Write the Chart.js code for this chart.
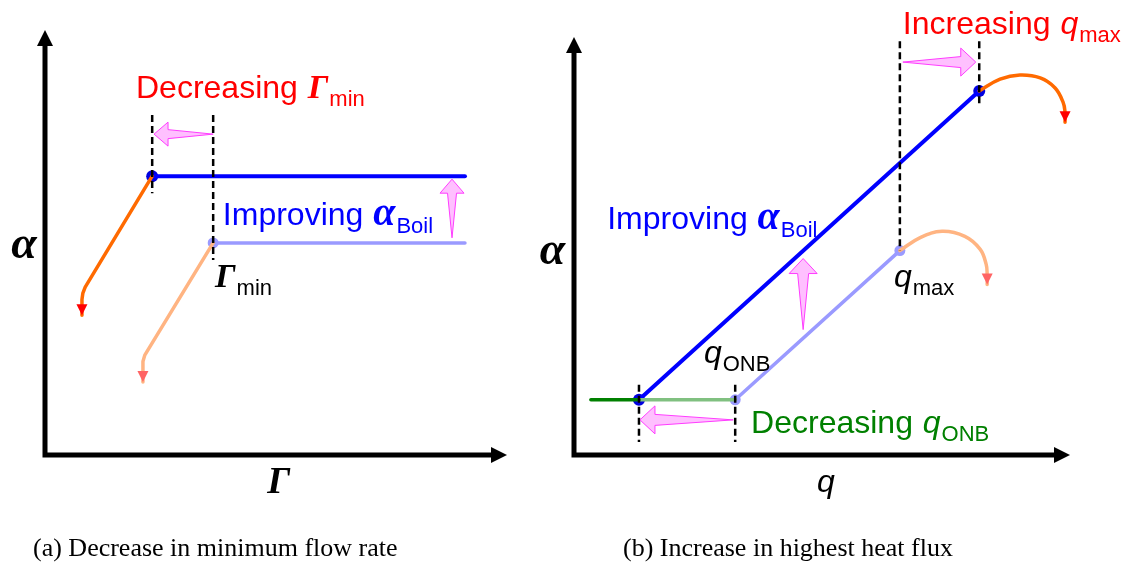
<!DOCTYPE html>
<html>
<head>
<meta charset="utf-8">
<script src="https://cdn.jsdelivr.net/npm/chart.js@4.4.0/dist/chart.umd.min.js"></script>
<style>
  body { margin: 0; background: #fff; width: 1124px; height: 564px; overflow: hidden; position: relative; }
  .panel { position: absolute; top: 0; }
</style>
</head>
<body>
<canvas id="panelA" class="panel" width="520" height="564" style="left:0"></canvas>
<canvas id="panelB" class="panel" width="604" height="564" style="left:520px"></canvas>
<script>
// ---- (a) alpha vs Gamma ----
const aImprovedX = [23.2, 90.9];
const aImprovedY = [65.6, 65.6];
const aBaseX = [36.4, 90.9];
const aBaseY = [49.9, 49.9];
const aDryoutX = [23.2, 8.7, 8.2, 8.0, 8.0];
const aDryoutY = [65.6, 39.5, 38.1, 36.6, 32.9];
const aBaseDryoutX = [36.4, 21.6, 21.2, 21.2, 21.2];
const aBaseDryoutY = [49.9, 23.5, 22.0, 20.6, 17.2];
const aGammaMin = [23.2, 36.4];          // improved, base
const aDashTop = [80, 80];
const aDashBottom = [61.6, 45.9];

// ---- (b) alpha vs q ----
const bSinglePhaseX = [3.4, 13.1];
const bSinglePhaseY = [13.2, 13.2];
const bBaseSinglePhaseX = [13.1, 32.5];
const bBaseSinglePhaseY = [13.2, 13.2];
const bImprovedX = [13.1, 81.7];
const bImprovedY = [13.2, 87.1];
const bBaseX = [32.5, 65.7];
const bBaseY = [13.2, 48.9];
const bCrisisX = [81.7, 85.9, 89.9, 94.0, 97.0, 98.6, 99.0, 99.0];
const bCrisisY = [87.1, 89.9, 90.9, 90.2, 87.8, 84.4, 82.0, 79.6];
const bBaseCrisisX = [65.7, 69.8, 74.2, 78.8, 81.9, 83.1, 83.3, 83.3];
const bBaseCrisisY = [48.9, 52.0, 53.5, 52.3, 49.2, 45.6, 43.2, 40.8];
const bDashX = [13.1, 32.5, 65.7, 81.7];
const bDashTop = [16.8, 16.8, 99, 99];
const bDashBottom = [3.1, 3.1, 48.9, 83.2];

const SANS = '"Liberation Sans", Arial, sans-serif';
const SERIF = '"Liberation Serif", "Times New Roman", serif';
const BLACK = '#000000', RED = '#ff0000', BLUE = '#0000ff', GREEN = '#008000';

const pts = (xs, ys) => xs.map((x, i) => ({ x, y: ys[i] }));

function lineSet(xs, ys, color, width, extra) {
    return Object.assign({
        data: pts(xs, ys),
        showLine: true,
        borderColor: color,
        borderWidth: width,
        pointRadius: 0,
        borderCapStyle: 'round',
        borderJoinStyle: 'round',
        tension: 0,
        clip: false
    }, extra || {});
}

function dotSet(xs, ys, color, r) {
    return {
        data: pts(xs, ys),
        showLine: false,
        pointRadius: r,
        pointBackgroundColor: color,
        pointBorderWidth: 0,
        clip: false
    };
}

// text pieces
const word = (text, color) => ({ text, color, font: `32px ${SANS}` });
const greek = (text, color, size) => ({ text, color, font: `italic bold ${size || 34}px ${SERIF}` });
const qSym = (color, size) => ({ text: 'q', color, font: `italic ${size || 32}px ${SANS}` });
const sub = (text, color) => ({ text, color, font: `22px ${SANS}`, dy: 8 });

function drawRich(ctx, x, y, parts) {
    let cx = x;
    ctx.textBaseline = 'alphabetic';
    ctx.textAlign = 'left';
    parts.forEach(p => {
        ctx.font = p.font;
        ctx.fillStyle = p.color;
        ctx.fillText(p.text, cx, y + (p.dy || 0));
        cx += ctx.measureText(p.text).width + 1;
    });
}

function drawBlockArrow(ctx, x0, y0, x1, y1, s) {
    const ang = Math.atan2(y1 - y0, x1 - x0);
    const len = Math.hypot(x1 - x0, y1 - y0);
    ctx.save();
    ctx.translate(x0, y0);
    ctx.rotate(ang);
    ctx.beginPath();
    ctx.moveTo(0, 0);
    ctx.lineTo(len - s.len, -s.shaft);
    ctx.lineTo(len - s.len, -s.head);
    ctx.lineTo(len, 0);
    ctx.lineTo(len - s.len, s.head);
    ctx.lineTo(len - s.len, s.shaft);
    ctx.closePath();
    ctx.fillStyle = '#ffc0ff';
    ctx.fill();
    ctx.strokeStyle = '#ff3cff';
    ctx.lineWidth = 1;
    ctx.stroke();
    ctx.restore();
}

function drawHead(ctx, from, tip, color, len, half) {
    const ang = Math.atan2(tip.y - from.y, tip.x - from.x);
    ctx.save();
    ctx.translate(tip.x, tip.y);
    ctx.rotate(ang);
    ctx.beginPath();
    ctx.moveTo(0, 0);
    ctx.lineTo(-len, -half);
    ctx.lineTo(-len, half);
    ctx.closePath();
    ctx.fillStyle = color;
    ctx.fill();
    ctx.restore();
}

// axes, dashed guides, block arrows, labels
function sketchPlugin(cfg) {
    return {
        id: 'sketch',
        beforeDatasetsDraw(chart) {
            const { ctx, chartArea: a } = chart;
            ctx.save();
            ctx.strokeStyle = BLACK;
            ctx.fillStyle = BLACK;
            ctx.lineWidth = 5;
            ctx.beginPath();
            ctx.moveTo(a.left, a.top + 14);
            ctx.lineTo(a.left, a.bottom);
            ctx.lineTo(a.right - 14, a.bottom);
            ctx.stroke();
            drawHead(ctx, { x: a.left, y: a.bottom }, { x: a.left, y: a.top }, BLACK, 16, 8);
            drawHead(ctx, { x: a.left, y: a.bottom }, { x: a.right, y: a.bottom }, BLACK, 16, 8);
            ctx.restore();
        },
        afterDatasetsDraw(chart) {
            const { ctx } = chart;
            const sx = chart.scales.x, sy = chart.scales.y;

            // arrow heads at the end of the dryout / crisis curves
            chart.data.datasets.forEach((ds, i) => {
                if (!ds.arrowColor) return;
                const els = chart.getDatasetMeta(i).data;
                const n = els.length;
                drawHead(ctx, els[n - 2], els[n - 1], ds.arrowColor, 11, 5.5);
            });

            ctx.save();
            ctx.strokeStyle = BLACK;
            ctx.lineWidth = 2.5;
            ctx.setLineDash([7, 4]);
            cfg.dashX.forEach((x, i) => {
                ctx.beginPath();
                ctx.moveTo(sx.getPixelForValue(x), sy.getPixelForValue(cfg.dashTop[i]));
                ctx.lineTo(sx.getPixelForValue(x), sy.getPixelForValue(cfg.dashBottom[i]));
                ctx.stroke();
            });
            ctx.restore();

            cfg.shifts.forEach(s => {
                drawBlockArrow(ctx,
                    sx.getPixelForValue(s.from[0]), sy.getPixelForValue(s.from[1]),
                    sx.getPixelForValue(s.to[0]), sy.getPixelForValue(s.to[1]), cfg.shiftSize);
            });

            cfg.labels.forEach(l => {
                drawRich(ctx, sx.getPixelForValue(l.x), sy.getPixelForValue(l.y), l.parts);
            });

            ctx.save();
            ctx.font = `26px ${SERIF}`;
            ctx.fillStyle = BLACK;
            ctx.textAlign = 'left';
            ctx.textBaseline = 'alphabetic';
            ctx.fillText(cfg.caption, chart.chartArea.left + cfg.captionShift, 556);
            ctx.restore();
        }
    };
}

function makeChart(id, datasets, padding, cfg) {
    return new Chart(document.getElementById(id), {
        type: 'scatter',
        data: { datasets },
        options: {
            responsive: false,
            animation: false,
            events: [],
            layout: { padding },
            plugins: { legend: { display: false }, tooltip: { enabled: false } },
            scales: {
                x: { type: 'linear', min: 0, max: 100, display: false },
                y: { type: 'linear', min: 0, max: 100, display: false }
            }
        },
        plugins: [sketchPlugin(cfg)]
    });
}

makeChart('panelA', [
    lineSet(aDryoutX, aDryoutY, '#ff6a00', 3.5, { arrowColor: RED }),
    lineSet(aBaseDryoutX, aBaseDryoutY, '#ffb482', 3.5, { arrowColor: '#ff6464' }),
    lineSet(aBaseX, aBaseY, '#9a9aff', 3.5),
    lineSet(aImprovedX, aImprovedY, BLUE, 4),
    dotSet([aGammaMin[1]], [aBaseY[0]], '#9a9aff', 5.5),
    dotSet([aGammaMin[0]], [aImprovedY[0]], '#0000e0', 6)
], { left: 45, right: 13, top: 30, bottom: 109 }, {
    dashX: aGammaMin,
    dashTop: aDashTop,
    dashBottom: aDashBottom,
    shiftSize: { head: 12, len: 14, shaft: 4.5 },
    shifts: [
        { from: [36.4, 75.5], to: [23.6, 75.5] },
        { from: [88.1, 51.1], to: [88.1, 64.9] }
    ],
    labels: [
        { x: 19.7, y: 84.0, parts: [word('Decreasing ', RED), greek('Γ', RED), sub('min', RED)] },
        { x: 38.5, y: 54.1, parts: [word('Improving ', BLUE), greek('α', BLUE, 40), sub('Boil', BLUE)] },
        { x: 36.8, y: 39.5, parts: [greek('Γ', BLACK), sub('min', BLACK)] },
        { x: -7.3, y: 46.4, parts: [greek('α', BLACK, 46)] },
        { x: 48.1, y: -8.9, parts: [greek('Γ', BLACK, 38)] }
    ],
    caption: '(a) Decrease in minimum flow rate',
    captionShift: -12
});

makeChart('panelB', [
    lineSet(bCrisisX, bCrisisY, '#ff6a00', 3.5, { arrowColor: RED, tension: 0.4 }),
    lineSet(bBaseCrisisX, bBaseCrisisY, '#ffb482', 3.5, { arrowColor: '#ff6464', tension: 0.4 }),
    lineSet(bSinglePhaseX, bSinglePhaseY, GREEN, 3.5),
    lineSet(bBaseSinglePhaseX, bBaseSinglePhaseY, '#80c080', 3.5),
    lineSet(bBaseX, bBaseY, '#9a9aff', 3.5),
    lineSet(bImprovedX, bImprovedY, BLUE, 4),
    dotSet([bBaseX[0], bBaseX[1]], [bBaseY[0], bBaseY[1]], '#9a9aff', 5.5),
    dotSet([bImprovedX[0], bImprovedX[1]], [bImprovedY[0], bImprovedY[1]], '#0000e0', 6)
], { left: 54, right: 54, top: 37, bottom: 109 }, {
    dashX: bDashX,
    dashTop: bDashTop,
    dashBottom: bDashBottom,
    shiftSize: { head: 14, len: 15, shaft: 5.5 },
    shifts: [
        { from: [66.3, 94.0], to: [81.0, 94.0] },
        { from: [32.1, 8.4], to: [13.3, 8.4] },
        { from: [46.2, 30.0], to: [46.2, 47.0] }
    ],
    labels: [
        { x: 66.3, y: 100.7, parts: [word('Increasing ', RED), qSym(RED), sub('max', RED)] },
        { x: 6.7, y: 54.0, parts: [word('Improving ', BLUE), greek('α', BLUE, 40), sub('Boil', BLUE)] },
        { x: 64.5, y: 40.3, parts: [qSym(BLACK), sub('max', BLACK)] },
        { x: 26.2, y: 22.1, parts: [qSym(BLACK), sub('ONB', BLACK)] },
        { x: 35.7, y: 5.3, parts: [word('Decreasing ', GREEN), qSym(GREEN), sub('ONB', GREEN)] },
        { x: -6.9, y: 45.6, parts: [greek('α', BLACK, 46)] },
        { x: 49.0, y: -8.9, parts: [qSym(BLACK, 32)] }
    ],
    caption: '(b) Increase in highest heat flux',
    captionShift: 49
});
</script>
</body>
</html>
